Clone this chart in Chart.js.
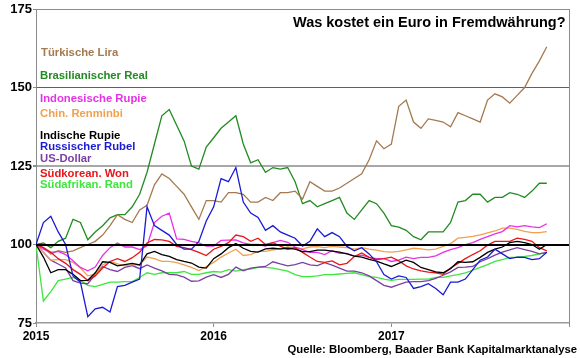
<!DOCTYPE html>
<html>
<head>
<meta charset="utf-8">
<script src="https://cdn.jsdelivr.net/npm/chart.js@4.4.1/dist/chart.umd.min.js"></script>
<style>
  html, body { margin: 0; padding: 0; background: #fff; }
  #wrap { position: relative; width: 580px; height: 358px; font-family: Arial, "Liberation Sans", sans-serif; font-weight: bold; }
  #wrap canvas { position: absolute; left: 0; top: 0; }
  .lbl { position: absolute; white-space: nowrap; line-height: 1; font-size: 11.3px; transform: translateY(-50%); }
</style>
</head>
<body>
<div id="wrap">
  <canvas id="fxChart" width="580" height="358"></canvas>
  <div class="lbl" style="left:293px; top:22px; font-size:14.5px; color:#000;">Was kostet ein Euro in Fremdwährung?</div>
  <div class="lbl" style="left:41px; top:53px; color:#a47a50;">Türkische Lira</div>
  <div class="lbl" style="left:40px; top:76px; color:#228b22;">Brasilianischer Real</div>
  <div class="lbl" style="left:40px; top:99px; color:#e632e6;">Indonesische Rupie</div>
  <div class="lbl" style="left:40px; top:114px; color:#f0a050;">Chin. Renminbi</div>
  <div class="lbl" style="left:40px; top:136px; color:#000;">Indische Rupie</div>
  <div class="lbl" style="left:40px; top:147px; color:#1a1ad4;">Russischer Rubel</div>
  <div class="lbl" style="left:40px; top:159px; color:#7b3fa3;">US-Dollar</div>
  <div class="lbl" style="left:40px; top:174px; color:#e8161a;">Südkorean. Won</div>
  <div class="lbl" style="left:40px; top:185px; color:#3ee63e;">Südafrikan. Rand</div>
  <div class="lbl" style="right:3px; top:350px; color:#000;">Quelle: Bloomberg, Baader Bank Kapitalmarktanalyse</div>
</div>
<script>
// index, start of 2015 = 100, sampled twice a month
const lira = [100, 99, 97, 98, 97.5, 98, 99, 100, 101, 103,
  106, 109.5, 108, 107, 111, 112.5, 119, 122.5, 121, 118.5,
  116, 112, 108, 114, 114, 113.5, 116.5, 116.5, 116, 113.5,
  113.5, 115, 114, 116.5, 116.5, 117, 114.5, 120, 118.5, 117,
  117, 118, 119.5, 121, 122.5, 127, 133, 130.5, 132, 144,
  146, 139, 137, 140, 139.5, 139, 137.5, 142, 141, 140,
  139, 146, 148, 147, 145, 147.5, 150, 154.5, 158.5, 163];
const real = [100, 100.5, 99, 101, 102, 108, 107, 101.5, 104, 106,
  108.5, 109.5, 109.5, 112, 116, 123, 132, 141, 143, 138,
  133, 125, 124, 131, 134, 137, 139, 141, 132, 126,
  127, 123, 124.5, 124, 124.5, 120, 113, 114, 112, 113,
  114, 115, 110, 108, 111, 114, 113, 110, 106, 105.5,
  104.5, 102.5, 101.5, 104, 104, 104, 107, 113.5, 114, 116,
  116, 113.5, 115, 115, 116.5, 116, 115, 117, 119.5, 119.5];
const rupieIdn = [100, 98.5, 97.5, 97.8, 96.8, 94.8, 92.7, 91.6, 92.8, 96.5,
  99, 100.5, 99.2, 99.2, 98.4, 99.6, 107, 109, 110, 101.8,
  101.6, 101, 100.5, 99.5, 99.5, 101.3, 101.4, 101.5, 100.5, 100,
  100, 99.5, 100.6, 101.3, 100.7, 99.2, 98.4, 97.5, 97.5, 96.8,
  98, 97.2, 97.2, 96.3, 96.6, 95.9, 95.5, 95.5, 94.6, 95,
  96, 95.5, 95.9, 95.9, 96.4, 97.5, 98.4, 99, 100, 100.6,
  101.6, 102.5, 103.4, 104.1, 106, 105.6, 106, 105.6, 105.4, 106.6];
const renminbi = [100, 97.5, 95, 95.2, 95.2, 94.3, 92.5, 90, 90.5, 93.5,
  94.6, 93.8, 93.2, 93.6, 93.5, 96, 95.5, 94.6, 94.6, 94.2,
  93.5, 92.7, 91.7, 93, 94.3, 96, 97.3, 98.5, 96.5, 96.8,
  97.8, 97.8, 98.3, 98.6, 99.2, 99, 98.6, 99.2, 99.3, 99,
  99.4, 99.2, 99, 98.5, 99, 98.5, 98.2, 97.7, 97.6, 97.8,
  98.3, 98.8, 98.6, 98.3, 98.5, 99.4, 100.3, 102, 102.3, 102.6,
  103.1, 103.7, 104.3, 105.2, 105.2, 104.8, 104.2, 103.8, 103.8, 104.1];
const rupieInd = [100, 96, 91, 92, 92, 90.5, 88.5, 88.6, 91, 94.5,
  94.3, 93.2, 93.6, 94, 93.5, 97, 97.8, 96.8, 96.2, 95.2,
  94.6, 94.1, 92.8, 92.5, 95.5, 97, 99, 100.3, 98.8, 97.8,
  97.6, 98.6, 98.8, 98.6, 98.8, 98.5, 97.7, 97.7, 98.2, 98.2,
  97.9, 97.6, 97, 96.3, 96, 95.3, 94.7, 93.8, 93, 94,
  95, 94.3, 92.7, 92, 91.3, 91, 92.3, 94.5, 94.3, 94.5,
  95.9, 97.5, 98.5, 99.2, 100.6, 101, 100.6, 100, 98.5, 100];
const rubel = [100, 107, 109, 104, 100, 90, 88, 77, 79.5, 80,
  78.5, 86.6, 87, 88, 89, 112, 106, 104.5, 103, 100,
  98.5, 98.5, 101, 107.5, 112, 121, 120, 124.5, 113.5, 110,
  108.6, 104.5, 106, 104, 103, 102, 99.5, 101, 105, 102.5,
  103.8, 102.5, 99.4, 98, 99, 97, 94.5, 90.4, 89, 90,
  89.5, 86, 86.6, 87.5, 86, 84, 88, 88, 89, 92,
  95, 96, 98.5, 97, 95.5, 96, 95.9, 95.2, 95.5, 97.5];
const usd = [100, 97.5, 95, 93.8, 92.5, 88.5, 87.7, 87.5, 90.5, 93,
  92, 91.4, 92.7, 93.3, 92.3, 93.5, 92.5, 91.6, 90.5, 90.3,
  89.6, 88.3, 88.4, 89.6, 90.4, 89.5, 90.5, 92.8, 91.6, 92.5,
  92.8, 93, 94.5, 93.8, 93.2, 93.6, 94.3, 93.5, 93.3, 94.2,
  93.4, 92.5, 91.5, 91.5, 91, 90, 88.5, 87, 86.4, 87.2,
  88, 88.2, 88.2, 88.5, 89.2, 90.2, 91.3, 92.7, 92.8, 93,
  94.5, 95.5, 96.6, 97.6, 98.3, 99, 98.4, 97.8, 97, 97.5];
const won = [100, 99, 97.5, 95.5, 94, 92, 90.5, 88.5, 90, 92.5,
  94.6, 95.5, 94.6, 95.8, 97.5, 100.5, 101.6, 101.5, 101, 99.4,
  99, 98.4, 97.5, 96.5, 98.5, 99.4, 100.6, 103, 102.5, 101,
  102, 100, 100.6, 99.5, 98.5, 99, 97.5, 96, 94.6, 94.3,
  94.8, 93.5, 94, 96.2, 97.3, 95.9, 95.2, 95.5, 96, 94.8,
  93.2, 92.2, 91.6, 91.2, 91, 90.5, 92.5, 94, 95.5, 96.8,
  98, 99.8, 101, 101, 101, 102, 101.6, 101, 99, 98];
const rand = [100, 82, 85, 88.5, 89, 89.5, 88.5, 87, 86.6, 87.3,
  88, 88, 88.2, 88.2, 89.5, 91, 90.5, 91, 91, 91,
  91.4, 90.5, 90.5, 91, 91.4, 91.2, 92, 91.5, 92, 92.2,
  92.7, 92.7, 92.5, 92, 91.5, 90.4, 89.8, 89.8, 90, 90.4,
  90.4, 90.6, 90.8, 91, 90.4, 89.8, 89.5, 89, 88.6, 88.9,
  88.9, 88.9, 89, 89, 89.5, 89.5, 90, 90.4, 91, 91.8,
  92.7, 93.6, 94.6, 95.2, 95.9, 96, 96.2, 96.5, 97, 97.5];

const yearTicks = [2015, 2016, 2017];
const dates = lira.map((_, i) => 2015 + i / 24);

const series = [
  { label: 'Russischer Rubel', data: rubel, color: '#1a1ad4' },
  { label: 'Indische Rupie', data: rupieInd, color: '#000000' },
  { label: 'Südkorean. Won', data: won, color: '#e8161a' },
  { label: 'Indonesische Rupie', data: rupieIdn, color: '#e632e6' },
  { label: 'Chin. Renminbi', data: renminbi, color: '#f0a050' },
  { label: 'US-Dollar', data: usd, color: '#7b3fa3' },
  { label: 'Südafrikan. Rand', data: rand, color: '#3ee63e' },
  { label: 'Türkische Lira', data: lira, color: '#a47a50' },
  { label: 'Brasilianischer Real', data: real, color: '#228b22' }
];

// black line at 100 on top, grey frame on the right
const frame = {
  id: 'frame',
  afterDatasetsDraw(chart) {
    const { ctx, chartArea: a, scales: { y } } = chart;
    ctx.save();
    const y100 = Math.round(y.getPixelForValue(100));
    ctx.strokeStyle = '#000';
    ctx.lineWidth = 2;
    ctx.beginPath();
    ctx.moveTo(a.left, y100);
    ctx.lineTo(a.right, y100);
    ctx.stroke();
    ctx.strokeStyle = '#8c8c8c';
    ctx.lineWidth = 1;
    ctx.beginPath();
    ctx.moveTo(a.right + 0.5, a.top);
    ctx.lineTo(a.right + 0.5, a.bottom + 4);
    ctx.stroke();
    ctx.restore();
  }
};

const gridColor = v => v === 150 ? '#606060' : v === 125 ? '#a8a8a8' : v === 175 ? '#8c8c8c' : 'rgba(0,0,0,0)';

new Chart(document.getElementById('fxChart'), {
  type: 'line',
  data: {
    datasets: series.map(s => ({
      label: s.label,
      data: s.data.map((v, i) => ({ x: dates[i], y: v })),
      borderColor: s.color,
      borderWidth: 1.3,
      pointRadius: 0,
      tension: 0,
      fill: false
    }))
  },
  options: {
    responsive: false,
    animation: false,
    devicePixelRatio: 1,
    layout: { padding: { top: 9, right: 11, left: 0, bottom: 0 } },
    plugins: { legend: { display: false }, tooltip: { enabled: false } },
    scales: {
      x: {
        type: 'linear',
        min: 2015,
        max: 2018,
        afterFit: s => { s.height = 35; },
        afterBuildTicks: s => { s.ticks = yearTicks.concat([2018]).map(v => ({ value: v })); },
        ticks: {
          autoSkip: false,
          padding: 2,
          color: '#000',
          font: { family: 'Arial, "Liberation Sans", sans-serif', size: 12, weight: 'bold' },
          callback: v => yearTicks.includes(v) ? String(v) : ''
        },
        grid: { drawOnChartArea: false, drawTicks: true, tickLength: 4, color: '#8c8c8c' },
        border: { color: '#9a9a9a', width: 1.5 }
      },
      y: {
        min: 75,
        max: 175,
        afterFit: s => { s.width = 36; },
        ticks: {
          stepSize: 25,
          padding: 1,
          color: '#000',
          font: { family: 'Arial, "Liberation Sans", sans-serif', size: 13, weight: 'bold' }
        },
        grid: {
          tickLength: 3,
          color: c => c.tick ? gridColor(c.tick.value) : 'rgba(0,0,0,0)',
          lineWidth: c => c.tick && c.tick.value === 125 ? 2 : 1,
          tickColor: '#8c8c8c'
        },
        border: { color: '#8c8c8c', width: 1 }
      }
    }
  },
  plugins: [frame]
});
</script>
</body>
</html>
